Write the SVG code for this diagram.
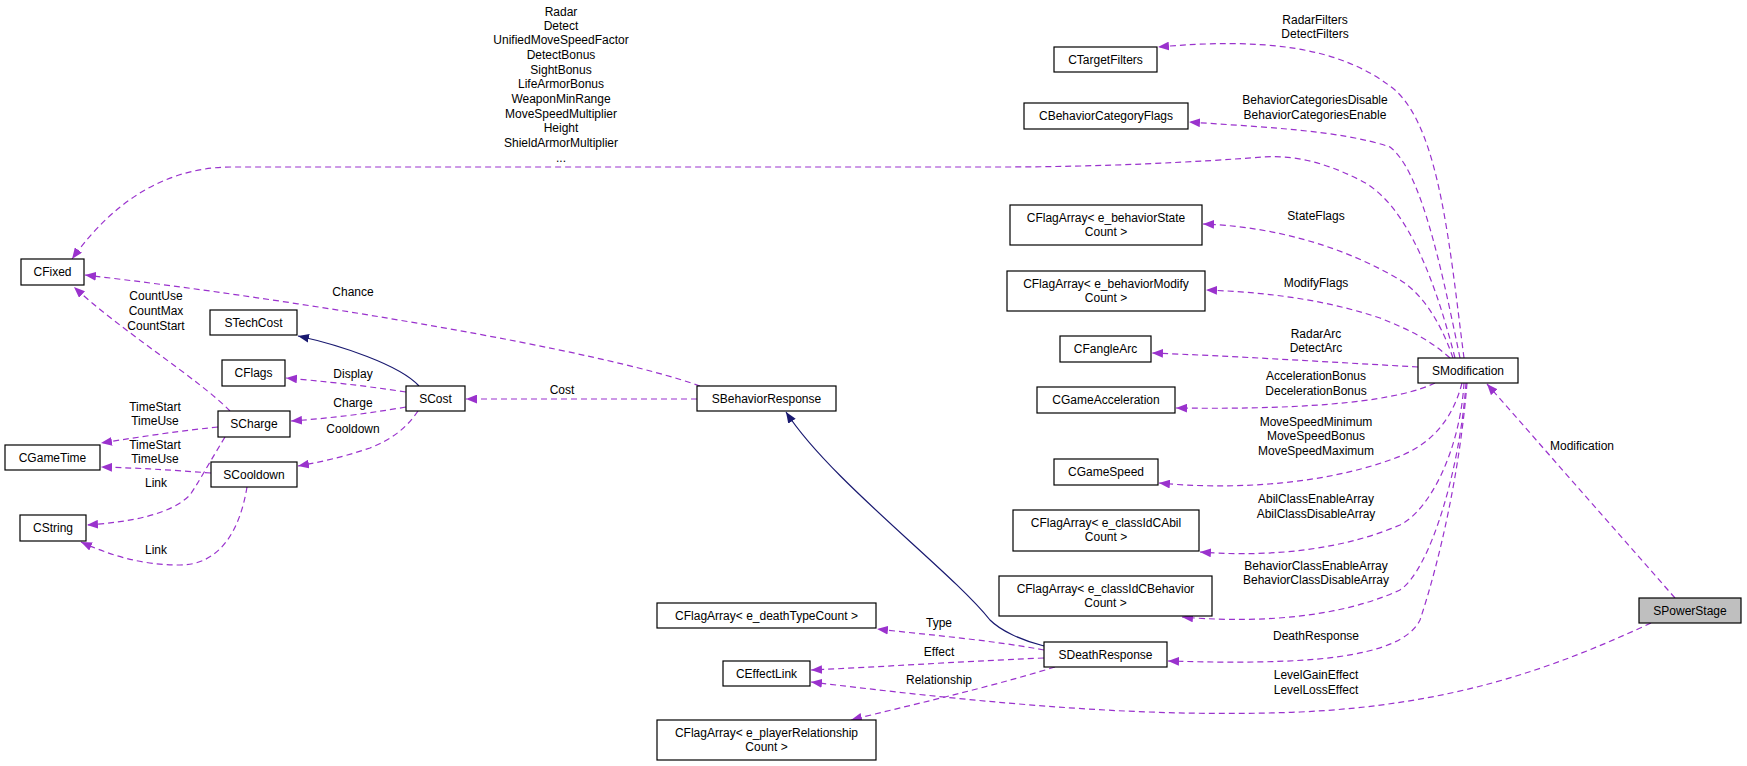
<svg xmlns="http://www.w3.org/2000/svg" width="1747" height="766" viewBox="0 0 1747 766">
<defs>
<style>
text{font-family:"Liberation Sans",Arial,sans-serif;font-size:12px;fill:#000;text-anchor:middle}
.n rect{fill:#fff;stroke:#000;stroke-width:1.2}
.n.g rect{fill:#bfbfbf}
.e{fill:none;stroke:#9a32cd;stroke-width:1.2;stroke-dasharray:6,4;marker-end:url(#ap)}
.i{fill:none;stroke:#191970;stroke-width:1.2;marker-end:url(#an)}
</style>
<marker id="ap" viewBox="0 0 10 8" refX="10" refY="4" markerWidth="11" markerHeight="9" markerUnits="userSpaceOnUse" orient="auto"><path d="M0,0L10,4L0,8z" fill="#9a32cd"/></marker>
<marker id="an" viewBox="0 0 10 8" refX="10" refY="4" markerWidth="11" markerHeight="9" markerUnits="userSpaceOnUse" orient="auto"><path d="M0,0L10,4L0,8z" fill="#191970"/></marker>
</defs>
<rect width="1747" height="766" fill="#fff"/>
<g id="connectors">
<path class="e" d="M1464,358 C1450,250 1440,130 1395,90 C1340,45 1260,38 1158,47"/>
<path class="e" d="M1460,358 C1440,260 1420,170 1390,147 C1340,130 1260,127 1189,122"/>
<path class="e" d="M1455,358 C1430,260 1400,200 1360,180 C1320,160 1290,155 1262,157 C1200,162 1100,167 1000,167 L232,167 C150,167 100,220 72,259"/>
<path class="e" d="M1453,358 C1440,320 1420,290 1395,277 C1330,240 1260,226 1203,224"/>
<path class="e" d="M1450,358 C1430,340 1410,330 1380,318 C1320,298 1260,292 1206,290"/>
<path class="e" d="M1418,367 C1330,362 1230,356 1152,353"/>
<path class="e" d="M1435,383 C1400,400 1320,410 1176,408"/>
<path class="e" d="M1462,383 C1450,430 1420,450 1390,460 C1320,485 1230,490 1159,483"/>
<path class="e" d="M1464,383 C1460,450 1430,510 1400,525 C1330,555 1250,556 1200,552"/>
<path class="e" d="M1466,383 C1460,470 1430,570 1400,590 C1330,622 1240,622 1182,617"/>
<path class="e" d="M1467,383 C1460,470 1440,560 1420,620 C1400,660 1300,665 1168,661"/>
<path class="e" d="M1675,598 L1487,384"/>
<path class="e" d="M1651,623 C1550,670 1450,705 1300,712 C1150,718 1000,705 811,682"/>
<path class="e" d="M1044,650 C990,640 930,635 877,629"/>
<path class="e" d="M1044,658 C950,662 880,667 811,670"/>
<path class="e" d="M1055,667 C980,690 910,705 851,720"/>
<path class="e" d="M700,386 C600,350 300,300 85,275"/>
<path class="e" d="M697,399 L466,399"/>
<path class="e" d="M406,392 C360,385 320,381 286,378"/>
<path class="e" d="M406,407 C360,415 320,419 291,421"/>
<path class="e" d="M418,411 C405,430 390,440 370,448 C340,458 320,462 298,466"/>
<path class="e" d="M230,411 C200,380 120,330 74,287"/>
<path class="e" d="M218,427 C170,432 140,437 101,443"/>
<path class="e" d="M211,473 C170,470 140,468 101,467"/>
<path class="e" d="M225,437 C205,470 200,480 190,495 C170,515 130,522 87,525"/>
<path class="e" d="M247,487 C240,530 220,565 180,565 C140,565 110,555 81,542"/>
<path class="i" d="M419,386 C400,365 340,345 298,336"/>
<path class="i" d="M1044,646 C1020,640 1000,630 990,620 C950,570 830,480 786,412"/>
</g>
<g id="labels">
<text x="561" y="16">Radar</text><text x="561" y="30">Detect</text><text x="561" y="44">UnifiedMoveSpeedFactor</text><text x="561" y="59">DetectBonus</text><text x="561" y="74">SightBonus</text><text x="561" y="88">LifeArmorBonus</text><text x="561" y="103">WeaponMinRange</text><text x="561" y="118">MoveSpeedMultiplier</text><text x="561" y="132">Height</text><text x="561" y="147">ShieldArmorMultiplier</text><text x="561" y="162">...</text>
<text x="353" y="296">Chance</text>
<text x="156" y="300">CountUse</text><text x="156" y="315">CountMax</text><text x="156" y="330">CountStart</text>
<text x="353" y="378">Display</text><text x="562" y="394">Cost</text><text x="353" y="407">Charge</text><text x="353" y="433">Cooldown</text>
<text x="155" y="411">TimeStart</text><text x="155" y="425">TimeUse</text><text x="155" y="449">TimeStart</text><text x="155" y="463">TimeUse</text>
<text x="156" y="487">Link</text><text x="156" y="554">Link</text>
<text x="1315" y="24">RadarFilters</text><text x="1315" y="38">DetectFilters</text>
<text x="1315" y="104">BehaviorCategoriesDisable</text><text x="1315" y="119">BehaviorCategoriesEnable</text>
<text x="1316" y="220">StateFlags</text><text x="1316" y="287">ModifyFlags</text>
<text x="1316" y="338">RadarArc</text><text x="1316" y="352">DetectArc</text>
<text x="1316" y="380">AccelerationBonus</text><text x="1316" y="395">DecelerationBonus</text>
<text x="1316" y="426">MoveSpeedMinimum</text><text x="1316" y="440">MoveSpeedBonus</text><text x="1316" y="455">MoveSpeedMaximum</text>
<text x="1316" y="503">AbilClassEnableArray</text><text x="1316" y="518">AbilClassDisableArray</text>
<text x="1316" y="570">BehaviorClassEnableArray</text><text x="1316" y="584">BehaviorClassDisableArray</text>
<text x="1316" y="640">DeathResponse</text>
<text x="1316" y="679">LevelGainEffect</text><text x="1316" y="694">LevelLossEffect</text>
<text x="1582" y="450">Modification</text>
<text x="939" y="627">Type</text><text x="939" y="656">Effect</text><text x="939" y="684">Relationship</text>
</g>
<g id="CFixed" class="n"><rect x="21" y="259" width="63" height="26"/><text x="52.5" y="276">CFixed</text></g>
<g id="STechCost" class="n"><rect x="210" y="310" width="87" height="25"/><text x="253.5" y="327">STechCost</text></g>
<g id="CFlags" class="n"><rect x="222" y="360" width="63" height="26"/><text x="253.5" y="377">CFlags</text></g>
<g id="SCost" class="n"><rect x="406" y="386" width="59" height="25"/><text x="435.5" y="403">SCost</text></g>
<g id="SBehaviorResponse" class="n"><rect x="697" y="386" width="139" height="25"/><text x="766.5" y="403">SBehaviorResponse</text></g>
<g id="SCharge" class="n"><rect x="218" y="411" width="72" height="26"/><text x="254" y="428">SCharge</text></g>
<g id="CGameTime" class="n"><rect x="5" y="445" width="95" height="25"/><text x="52.5" y="462">CGameTime</text></g>
<g id="SCooldown" class="n"><rect x="211" y="462" width="86" height="25"/><text x="254" y="479">SCooldown</text></g>
<g id="CString" class="n"><rect x="20" y="515" width="66" height="26"/><text x="53" y="532">CString</text></g>
<g id="CFlagArrayDeathType" class="n"><rect x="657" y="603" width="219" height="25"/><text x="766.5" y="620">CFlagArray&lt; e_deathTypeCount &gt;</text></g>
<g id="CEffectLink" class="n"><rect x="723" y="661" width="87" height="25"/><text x="766.5" y="678">CEffectLink</text></g>
<g id="CFlagArrayPlayerRelationship" class="n"><rect x="657" y="720" width="219" height="40"/><text x="766.5" y="737">CFlagArray&lt; e_playerRelationship</text><text x="766.5" y="751">Count &gt;</text></g>
<g id="CTargetFilters" class="n"><rect x="1054" y="47" width="103" height="25"/><text x="1105.5" y="64">CTargetFilters</text></g>
<g id="CBehaviorCategoryFlags" class="n"><rect x="1024" y="103" width="164" height="26"/><text x="1106" y="120">CBehaviorCategoryFlags</text></g>
<g id="CFlagArrayBehaviorState" class="n"><rect x="1010" y="205" width="192" height="40"/><text x="1106" y="222">CFlagArray&lt; e_behaviorState</text><text x="1106" y="236">Count &gt;</text></g>
<g id="CFlagArrayBehaviorModify" class="n"><rect x="1007" y="271" width="198" height="40"/><text x="1106" y="288">CFlagArray&lt; e_behaviorModify</text><text x="1106" y="302">Count &gt;</text></g>
<g id="CFangleArc" class="n"><rect x="1060" y="336" width="91" height="26"/><text x="1105.5" y="353">CFangleArc</text></g>
<g id="SModification" class="n"><rect x="1418" y="358" width="100" height="25"/><text x="1468" y="375">SModification</text></g>
<g id="CGameAcceleration" class="n"><rect x="1037" y="387" width="138" height="26"/><text x="1106" y="404">CGameAcceleration</text></g>
<g id="CGameSpeed" class="n"><rect x="1054" y="459" width="104" height="26"/><text x="1106" y="476">CGameSpeed</text></g>
<g id="CFlagArrayClassIdCAbil" class="n"><rect x="1013" y="510" width="186" height="41"/><text x="1106" y="527">CFlagArray&lt; e_classIdCAbil</text><text x="1106" y="541">Count &gt;</text></g>
<g id="CFlagArrayClassIdCBehavior" class="n"><rect x="999" y="576" width="213" height="40"/><text x="1105.5" y="593">CFlagArray&lt; e_classIdCBehavior</text><text x="1105.5" y="607">Count &gt;</text></g>
<g id="SDeathResponse" class="n"><rect x="1044" y="642" width="123" height="25"/><text x="1105.5" y="659">SDeathResponse</text></g>
<g id="SPowerStage" class="n g"><rect x="1639" y="598" width="102" height="25"/><text x="1690" y="615">SPowerStage</text></g>
</svg>
